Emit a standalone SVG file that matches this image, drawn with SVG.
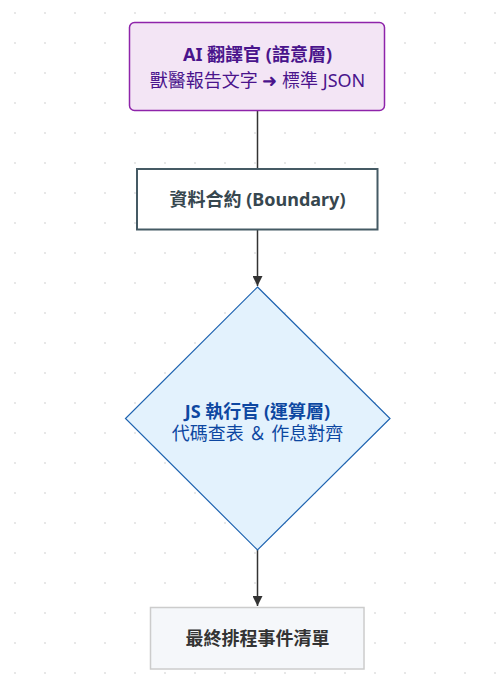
<svg xmlns="http://www.w3.org/2000/svg" width="496" height="686" viewBox="0 0 496 686">
<defs>
<pattern id="dots" x="0" y="0" width="30" height="30" patternUnits="userSpaceOnUse">
<circle cx="15" cy="13" r="1.1" fill="#e2e2e2"/>
</pattern>
<marker id="arrow" viewBox="0 0 10 10" refX="10" refY="5" markerWidth="10" markerHeight="10" markerUnits="userSpaceOnUse" orient="auto">
<path d="M0,0 L10,5 L0,10 z" fill="#333333"/>
</marker>
<style>
text{font-family:"Noto Sans","Noto Sans CJK TC",sans-serif;font-size:18px;text-anchor:middle;dominant-baseline:central}
.b{font-weight:bold}
.edge{stroke:#333333;stroke-width:1.5;fill:none}
</style>
</defs>
<rect width="496" height="686" fill="#ffffff"/>
<rect width="496" height="686" fill="url(#dots)"/>
<g id="connectors">
<path class="edge" d="M257.5,111 L257.5,168"/>
<path class="edge" d="M257.5,230 L257.5,286" marker-end="url(#arrow)"/>
<path class="edge" d="M257.5,550 L257.5,606" marker-end="url(#arrow)"/>
</g>
<g id="node-ai">
<rect x="129.5" y="22.5" width="255" height="88" rx="5" fill="#f3e5f5" stroke="#8e24aa" stroke-width="1.5"/>
<text class="b" x="257.5" y="54" fill="#4a148c">AI 翻譯官 (語意層)</text>
<text x="257.5" y="80" fill="#4a148c">獸醫報告文字 ➜ 標準 JSON</text>
</g>
<g id="node-contract">
<rect x="137" y="169" width="240.5" height="60.5" fill="#ffffff" stroke="#455a64" stroke-width="2"/>
<text class="b" x="257.5" y="199" fill="#37474f">資料合約 (Boundary)</text>
</g>
<g id="node-js">
<polygon points="257.5,287 390,418.5 257.5,550 125.5,418.5" fill="#e3f2fd" stroke="#1e63b0" stroke-width="1.2"/>
<text class="b" x="257.5" y="410.5" fill="#0d47a1">JS 執行官 (運算層)</text>
<text x="257.5" y="433" fill="#0d47a1">代碼查表 ＆ 作息對齊</text>
</g>
<g id="node-final">
<rect x="150.5" y="607.5" width="213.5" height="61.5" fill="#f5f7fa" stroke="#cccccc" stroke-width="1.5"/>
<text class="b" x="257.5" y="638" fill="#333333">最終排程事件清單</text>
</g>
</svg>
